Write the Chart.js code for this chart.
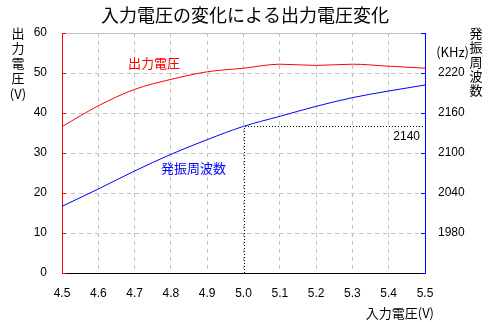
<!DOCTYPE html>
<html>
<head>
<meta charset="utf-8">
<script src="https://cdn.jsdelivr.net/npm/chart.js@4.4.0/dist/chart.umd.min.js"></script>
<style>
  html, body { margin: 0; padding: 0; background: #fff; }
  canvas { display: block; }
</style>
</head>
<body>
<canvas id="voltChart" width="492" height="322"></canvas>
<script>
// 入力電圧 (V)
var inputVolt = [4.5, 4.6, 4.7, 4.8, 4.9, 5.0, 5.1, 5.2, 5.3, 5.4, 5.5];
// 出力電圧 (V)
var outputVolt = [36.6, 41.8, 45.9, 48.4, 50.3, 51.2, 52.2, 51.9, 52.2, 51.7, 51.2];
// 発振周波数 (KHz)
var oscFreq = [2020, 2046, 2073, 2098, 2120, 2140, 2155, 2170, 2183, 2193, 2202];
// 右軸に表示するラベル
var freqTicks = [1980, 2040, 2100, 2160, 2220];
// 点線で示す入力電圧
var markVolt = 5.0;

var jpFont = '"Noto Sans CJK JP", sans-serif';
var numFont = '"Liberation Sans", Arial, sans-serif';

function toPoints(xs, ys) {
  return xs.map(function (x, i) { return { x: x, y: ys[i] }; });
}

function crisp(v) { return Math.round(v) + 0.5; }

// 枠・目盛り・注記・文字を描くプラグイン
var decoPlugin = {
  id: 'deco',
  beforeDatasetsDraw: function (chart) {
    var ctx = chart.ctx, a = chart.chartArea;
    var sx = chart.scales.x, sy = chart.scales.y, sy1 = chart.scales.y1;

    // 上の枠線
    ctx.save();
    ctx.strokeStyle = '#c0c0c0';
    ctx.lineWidth = 1;
    ctx.beginPath();
    ctx.moveTo(a.left, crisp(a.top));
    ctx.lineTo(a.right, crisp(a.top));
    ctx.stroke();

    // 内向きの目盛り
    ctx.strokeStyle = '#ff0000';
    sy.ticks.forEach(function (t) {
      var py = crisp(sy.getPixelForValue(t.value));
      ctx.beginPath();
      ctx.moveTo(a.left, py);
      ctx.lineTo(a.left + 4, py);
      ctx.stroke();
    });
    ctx.strokeStyle = '#0000ff';
    sy1.ticks.forEach(function (t) {
      var py = crisp(sy1.getPixelForValue(t.value));
      ctx.beginPath();
      ctx.moveTo(a.right - 4, py);
      ctx.lineTo(a.right, py);
      ctx.stroke();
    });

    // 5.0V の点線
    var idx = inputVolt.indexOf(markVolt);
    var px = crisp(sx.getPixelForValue(markVolt));
    var py = crisp(sy1.getPixelForValue(oscFreq[idx]));
    ctx.strokeStyle = '#000000';
    ctx.setLineDash([1, 2]);
    ctx.beginPath();
    ctx.moveTo(px, a.bottom);
    ctx.lineTo(px, py);
    ctx.lineTo(a.right, py);
    ctx.stroke();
    ctx.setLineDash([]);

    ctx.fillStyle = '#000000';
    ctx.font = '12px ' + numFont;
    ctx.textAlign = 'right';
    ctx.textBaseline = 'middle';
    ctx.fillText(String(oscFreq[idx]), a.right - 5, py + 10);
    ctx.restore();
  },
  afterDraw: function (chart) {
    var ctx = chart.ctx;
    ctx.save();
    ctx.textBaseline = 'middle';

    // タイトル
    ctx.fillStyle = '#000000';
    ctx.textAlign = 'center';
    ctx.font = '18px ' + jpFont;
    ctx.fillText('入力電圧の変化による出力電圧変化', 245, 15);

    // 左軸タイトル（縦書き）
    ctx.font = '13px ' + jpFont;
    '出力電圧'.split('').forEach(function (c, i) {
      ctx.fillText(c, 18, 33 + i * 15);
    });
    ctx.fillText('(V)', 18, 94);

    // 右軸タイトル（縦書き）
    '発振周波数'.split('').forEach(function (c, i) {
      ctx.fillText(c, 476, 33 + i * 14.3);
    });
    ctx.textAlign = 'right';
    ctx.fillText('(KHz)', 469, 52);

    // X軸タイトル
    ctx.fillText('入力電圧(V)', 434, 313);

    // 系列ラベル
    ctx.textAlign = 'left';
    ctx.fillStyle = '#ff0000';
    ctx.fillText('出力電圧', 128, 63);
    ctx.fillStyle = '#0000ff';
    ctx.fillText('発振周波数', 161, 168);
    ctx.restore();
  }
};

new Chart(document.getElementById('voltChart').getContext('2d'), {
  type: 'line',
  data: {
    datasets: [{
      label: '出力電圧',
      data: toPoints(inputVolt, outputVolt),
      yAxisID: 'y',
      borderColor: '#ff0000',
      borderWidth: 1,
      pointRadius: 0,
      cubicInterpolationMode: 'monotone',
      fill: false
    }, {
      label: '発振周波数',
      data: toPoints(inputVolt, oscFreq),
      yAxisID: 'y1',
      borderColor: '#0000ff',
      borderWidth: 1,
      pointRadius: 0,
      cubicInterpolationMode: 'monotone',
      fill: false
    }]
  },
  options: {
    responsive: false,
    animation: false,
    devicePixelRatio: 1,
    layout: { padding: { top: 33, left: 0, right: 0, bottom: 0 } },
    plugins: { legend: { display: false }, tooltip: { enabled: false } },
    scales: {
      x: {
        type: 'linear',
        min: 4.5,
        max: 5.5,
        afterFit: function (scale) { scale.height = 49; },
        ticks: {
          stepSize: 0.1,
          maxRotation: 0,
          autoSkip: false,
          padding: 13,
          color: '#000000',
          font: { family: numFont, size: 12 },
          callback: function (v) { return Number(v).toFixed(1); }
        },
        grid: {
          drawTicks: false,
          color: function (c) {
            return (c.index === 0 || c.index === 10) ? 'rgba(0,0,0,0)' : '#c0c0c0';
          }
        },
        border: { color: '#000000', width: 1, dash: [4, 4] }
      },
      y: {
        position: 'left',
        min: 0,
        max: 60,
        afterFit: function (scale) { scale.width = 62; },
        ticks: {
          stepSize: 10,
          padding: 15,
          color: '#000000',
          font: { family: numFont, size: 12 }
        },
        grid: {
          drawTicks: false,
          color: function (c) {
            return (c.index === 0 || c.index === 6) ? 'rgba(0,0,0,0)' : '#c0c0c0';
          }
        },
        border: { color: '#ff0000', width: 1, dash: [4, 4] }
      },
      y1: {
        position: 'right',
        min: 1920,
        max: 2280,
        afterFit: function (scale) { scale.width = 67; },
        ticks: {
          stepSize: 60,
          padding: 13,
          color: '#000000',
          font: { family: numFont, size: 12 },
          callback: function (v) { return freqTicks.indexOf(v) >= 0 ? String(v) : ''; }
        },
        grid: { drawOnChartArea: false, drawTicks: false },
        border: { color: '#0000ff', width: 1 }
      }
    }
  },
  plugins: [decoPlugin]
});
</script>
</body>
</html>
